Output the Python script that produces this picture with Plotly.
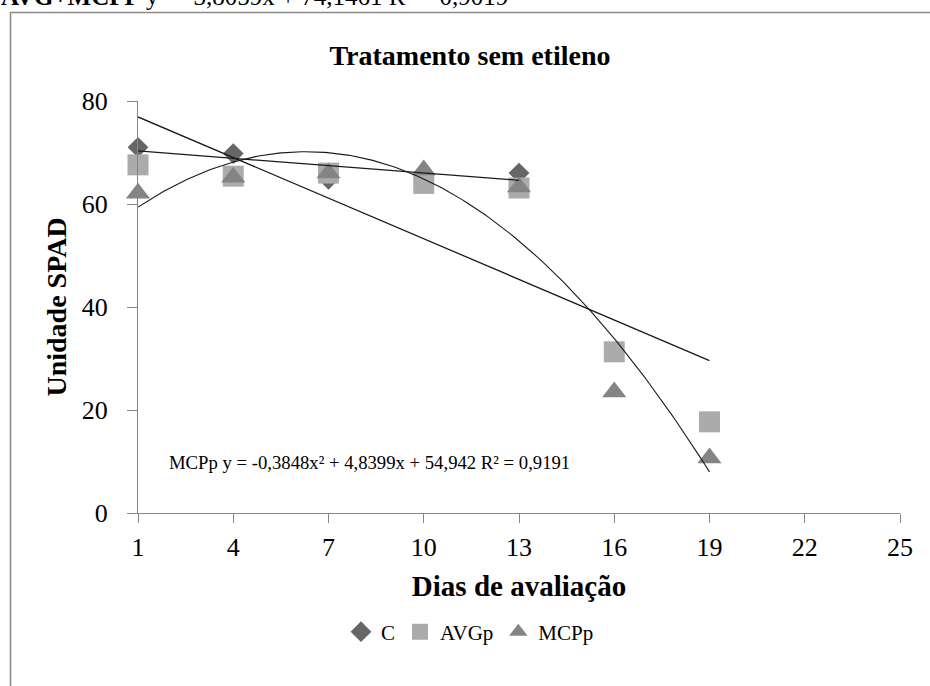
import numpy as np
import plotly.graph_objects as go

# ---- data ----
days = [1, 4, 7, 10, 13, 16, 19]
c_days = [1, 4, 7, 10, 13]
c_vals = [71.0, 69.8, 64.8, 65.2, 66.0]
avg_vals = [67.6, 65.4, 66.0, 64.0, 63.1, 31.3, 17.7]
mcp_vals = [62.1, 65.2, 66.0, 66.6, 63.3, 23.5, 10.7]

# trend lines
c_trend_x = [1, 13]
c_trend_y = [70.3, 64.6]
avgmcp_trend_x = [1, 19]
avgmcp_trend_y = [76.9, 29.6]
mcp_quad_coef = [-0.3848, 4.8399, 54.942]  # printed on chart
mcp_quad_range = [1, 19]

x_ticks = [1, 4, 7, 10, 13, 16, 19, 22, 25]
y_ticks = [0, 20, 40, 60, 80]

title_text = "Tratamento sem etileno"
x_title = "Dias de avaliação"
y_title = "Unidade SPAD"
eq_mcp = "MCPp y = -0,3848x² + 4,8399x + 54,942 R² = 0,9191"
eq_top = "<b>AVG+MCPP</b> y = -3,8059x + 74,1461 R² = 0,9019"

FONT = "Liberation Serif, Times New Roman, serif"
AX = "#868686"

fig = go.Figure()
fig.add_trace(go.Scatter(x=c_days, y=c_vals, mode="markers", name="C", cliponaxis=False,
                         marker=dict(symbol="diamond", size=16, color="#666666")))
fig.add_trace(go.Scatter(x=days, y=avg_vals, mode="markers", name="AVGp", cliponaxis=False,
                         marker=dict(symbol="square", size=21, color="#ABABAB")))
fig.add_trace(go.Scatter(x=days, y=mcp_vals, mode="markers", name="MCPp", cliponaxis=False,
                         marker=dict(symbol="triangle-up", size=21, color="#848484")))

qx = np.linspace(mcp_quad_range[0], mcp_quad_range[1], 200)
qy = np.polyval(mcp_quad_coef, qx)
line_style = dict(color="#1a1a1a", width=1.3)
fig.add_trace(go.Scatter(x=c_trend_x, y=c_trend_y, mode="lines", line=line_style,
                         showlegend=False, hoverinfo="skip", cliponaxis=False))
fig.add_trace(go.Scatter(x=avgmcp_trend_x, y=avgmcp_trend_y, mode="lines", line=line_style,
                         showlegend=False, hoverinfo="skip", cliponaxis=False))
fig.add_trace(go.Scatter(x=qx, y=qy, mode="lines", line=dict(color="#1a1a1a", width=1.1),
                         showlegend=False, hoverinfo="skip", cliponaxis=False))

L, R, T, B = 138, 30, 101, 173
W, H = 930, 686
pw, ph = W - L - R, H - T - B

def px_x(p):
    return (p - L) / pw

def px_y(p):
    return (H - B - p) / ph

fig.update_layout(
    width=W, height=H,
    margin=dict(l=L, r=R, t=T, b=B, autoexpand=False),
    paper_bgcolor="white", plot_bgcolor="white",
    font=dict(family=FONT, color="black"),
    title=dict(text="<b>" + title_text + "</b>", x=470 / W, xanchor="center",
               y=1 - 55 / H, yanchor="middle", font=dict(size=28, family=FONT)),
    showlegend=True,
    legend=dict(orientation="h", x=px_x(470), xanchor="center", y=px_y(632), yanchor="middle",
                font=dict(size=21, family=FONT), itemsizing="trace", bgcolor="rgba(0,0,0,0)",
                tracegroupgap=0),
    xaxis=dict(range=[1, 25], tickvals=x_ticks, ticktext=[str(v) for v in x_ticks],
               showgrid=False, zeroline=False, showline=True, linecolor=AX, linewidth=1.2,
               ticks="outside", ticklen=9, tickcolor=AX, tickwidth=1.2,
               tickfont=dict(size=26, family=FONT), ticklabelstandoff=2,
               title=dict(text="<b>" + x_title + "</b>", font=dict(size=29, family=FONT), standoff=14)),
    yaxis=dict(range=[0, 80], tickvals=y_ticks, showgrid=False, zeroline=False,
               showline=True, linecolor=AX, linewidth=1.2,
               ticks="outside", ticklen=10, tickcolor=AX, tickwidth=1.2,
               tickfont=dict(size=26, family=FONT), ticklabelstandoff=14,
               title=dict(text="<b>" + y_title + "</b>", font=dict(size=28, family=FONT), standoff=6)),
)

fig.add_annotation(text=eq_mcp, xref="x", yref="y", x=1.92, y=9.9, xanchor="left",
                   yanchor="middle", showarrow=False, font=dict(size=18.7, family=FONT))
fig.add_annotation(text=eq_top, xref="paper", yref="paper", x=px_x(-1), y=px_y(-3.5),
                   xanchor="left", yanchor="middle", showarrow=False,
                   font=dict(size=25, family=FONT))

fig.add_shape(type="rect", xref="paper", yref="paper",
              x0=px_x(10.5), y0=px_y(12.5), x1=px_x(960), y1=px_y(720),
              line=dict(color="#8a8a8a", width=1.6), fillcolor="rgba(0,0,0,0)", layer="below")

fig.write_html("out.html")
